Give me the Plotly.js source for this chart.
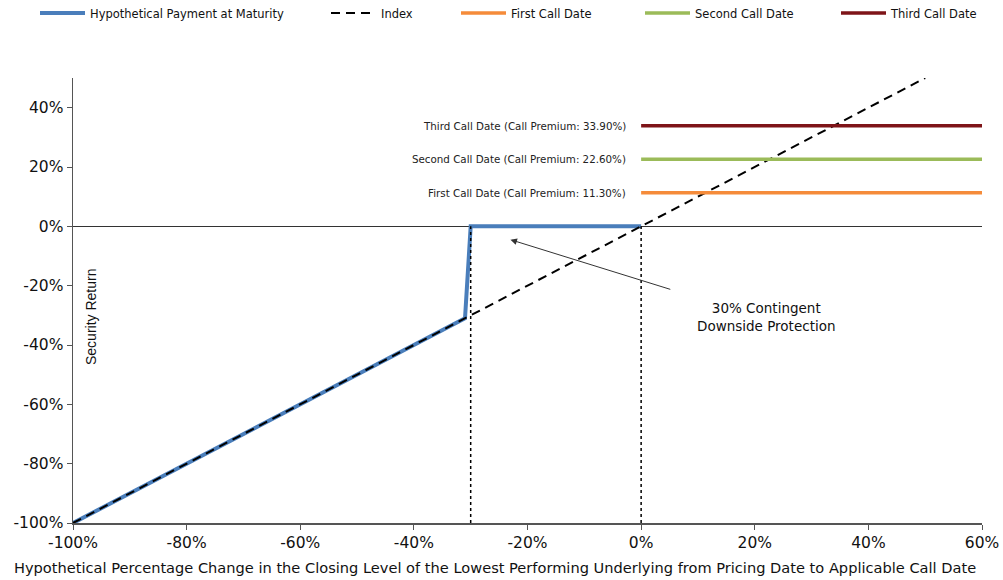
<!DOCTYPE html>
<html>
<head>
<meta charset="utf-8">
<script src="https://cdn.plot.ly/plotly-3.0.1.min.js"></script>
<style>html,body{margin:0;padding:0;background:#fff;}#chart{width:1003px;height:580px;}</style>
</head>
<body>
<div id="chart"></div>
<script>
// ---- data ----
const indexX = [-100, 50];
const indexY = [-100, 50];
const paymentX = [-100, -31, -30, 0];
const paymentY = [-100, -31, 0, 0];
const callX = [0, 60];
const callNames = ["First Call Date", "Second Call Date", "Third Call Date"];
const callPremiums = [11.3, 22.6, 33.9];
const callLabels = ["First Call Date (Call Premium: 11.30%)", "Second Call Date (Call Premium: 22.60%)", "Third Call Date (Call Premium: 33.90%)"];
const barrierLevels = [-30, 0];
const barrierSpan = [-100, 0];
const xTicks = [-100, -80, -60, -40, -20, 0, 20, 40, 60];
const yTicks = [-100, -80, -60, -40, -20, 0, 20, 40];
const xTitle = "Hypothetical Percentage Change in the Closing Level of the Lowest Performing Underlying from Pricing Date to Applicable Call Date";
const yTitle = "Security Return";
const noteText = "30% Contingent<br>Downside Protection";
const noteX = 22, noteY = -30.5;
const arrowHead = [-23, -4.5];
const arrowTail = [5.4, -21.4];

const callColors = ["#F58B3A", "#9BBB59", "#7E1418"];
const FONT = "DejaVu Sans, Liberation Sans, Arial, sans-serif";

const traces = [];
traces.push({x: paymentX, y: paymentY, mode: "lines", name: "Hypothetical Payment at Maturity",
  line: {color: "#4A7EBB", width: 4}, legend: "legend"});
traces.push({x: indexX, y: indexY, mode: "lines", name: "Index",
  line: {color: "#000", width: 2, dash: "9px,6px"}, legend: "legend2"});
callPremiums.forEach((p, i) => {
  traces.push({x: callX, y: callX.map(() => p), mode: "lines", name: callNames[i],
    line: {color: callColors[i], width: 3.5}, legend: "legend" + (i + 3)});
});
barrierLevels.forEach(b => {
  traces.push({x: barrierSpan.map(() => b), y: barrierSpan, mode: "lines", showlegend: false,
    line: {color: "#000", width: 1.5, dash: "dot"}, hoverinfo: "skip"});
});

const legendBase = (px) => ({
  xref: "container", yref: "container", x: px / 1003, y: 1 - 13 / 580,
  xanchor: "left", yanchor: "middle", orientation: "h", itemwidth: 45,
  bgcolor: "rgba(0,0,0,0)", font: {family: FONT, size: 11.5, color: "#111"}
});

const annotations = callLabels.map((t, i) => ({
  x: 0, y: callPremiums[i], xref: "x", yref: "y", text: t, showarrow: false,
  xanchor: "right", yanchor: "middle", xshift: -13,
  font: {family: FONT, size: 10.3, color: "#222"}
}));
annotations.push({x: noteX, y: noteY, xref: "x", yref: "y", text: noteText, showarrow: false,
  xanchor: "center", yanchor: "middle", font: {family: FONT, size: 13.5, color: "#111"}});
annotations.push({x: arrowHead[0], y: arrowHead[1], ax: arrowTail[0], ay: arrowTail[1],
  xref: "x", yref: "y", axref: "x", ayref: "y", text: "", showarrow: true,
  arrowhead: 2, arrowsize: 1.3, arrowwidth: 1, arrowcolor: "#333"});
annotations.push({x: -96.8, y: -30.5, xref: "x", yref: "y", text: yTitle, showarrow: false,
  textangle: -90, xanchor: "center", yanchor: "middle",
  font: {family: "Liberation Sans, Arial, sans-serif", size: 14, color: "#111"}});
annotations.push({x: (495 - 73) / 909, y: (523 - 567) / 445, xref: "paper", yref: "paper",
  text: xTitle, showarrow: false, xanchor: "center", yanchor: "middle",
  font: {family: FONT, size: 14.6, color: "#111"}});

const layout = {
  width: 1003, height: 580,
  margin: {l: 73, r: 21, t: 78, b: 57},
  paper_bgcolor: "#fff", plot_bgcolor: "#fff",
  xaxis: {range: [-100, 60], tickvals: xTicks, ticktext: xTicks.map(v => v + "%"),
    showgrid: false, zeroline: false, showline: true, linecolor: "#555", linewidth: 1.5,
    ticks: "outside", ticklen: 5, tickcolor: "#555",
    tickfont: {family: FONT, size: 15.5, color: "#111"}},
  yaxis: {range: [-100, 50], tickvals: yTicks, ticktext: yTicks.map(v => v + "%"),
    showgrid: false, zeroline: true, zerolinecolor: "#333", zerolinewidth: 1.5,
    showline: true, linecolor: "#555", linewidth: 1.5,
    ticks: "outside", ticklen: 5, tickcolor: "#555",
    tickfont: {family: FONT, size: 15.5, color: "#111"}},
  legend: legendBase(35),
  legend2: legendBase(326),
  legend3: legendBase(456),
  legend4: legendBase(640),
  legend5: legendBase(836),
  annotations: annotations,
  showlegend: true
};

Plotly.newPlot("chart", traces, layout, {displayModeBar: false, staticPlot: true});
</script>
</body>
</html>
